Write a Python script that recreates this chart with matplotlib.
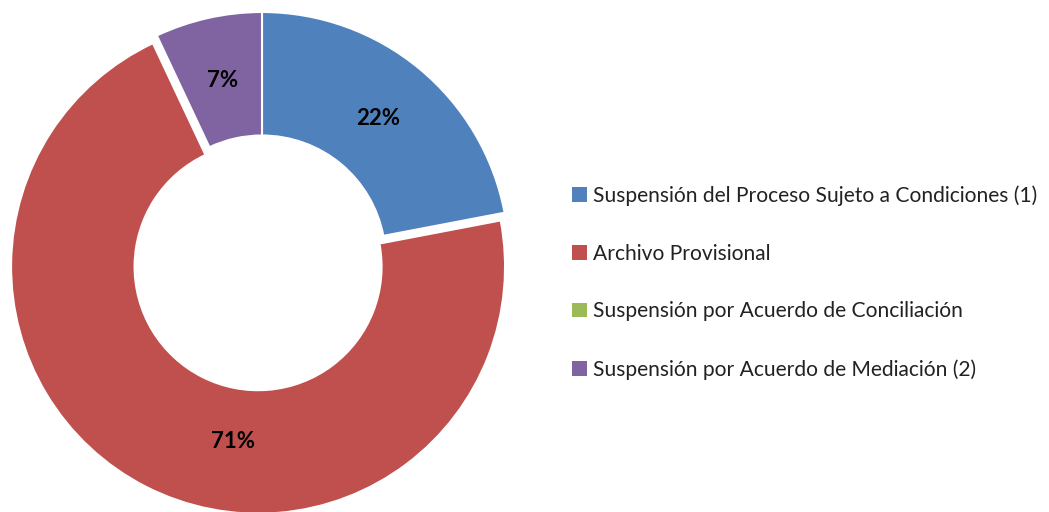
import matplotlib
matplotlib.use('Agg')
import matplotlib.pyplot as plt
from matplotlib.patches import Patch
import numpy as np

plt.rcParams['font.family'] = ['Lato', 'DejaVu Sans']

# data (percent of total)
categorias = ['Suspensión del Proceso Sujeto a Condiciones (1)',
              'Archivo Provisional',
              'Suspensión por Acuerdo de Conciliación',
              'Suspensión por Acuerdo de Mediación (2)']
valores = [22, 71, 0, 7]
colores = ['#4F81BD', '#C0504D', '#9BBB59', '#8064A2']
separar = [0, 0.035, 0, 0]

def etiqueta(p):
    # hide the empty slice label
    return '' if p < 0.5 else '%.0f%%' % p

fig = plt.figure(figsize=(10.49, 5.12), dpi=100)
ax = fig.add_axes([12/1049, 3/512, 500/1049, 500/512])
wedges, texts, autotexts = ax.pie(valores, colors=colores, startangle=90, counterclock=False,
                                  explode=separar, autopct=etiqueta, pctdistance=0.74,
                                  wedgeprops=dict(width=0.5, edgecolor='white', linewidth=1.5))
for t in autotexts:
    t.set_fontsize(16)
    t.set_fontweight('bold')
    t.set_color('black')

# excel puts the big slice label closer to the bottom
ang = np.deg2rad(-99)
autotexts[1].set_position((0.75 * np.cos(ang), 0.75 * np.sin(ang)))

lim = 250/247
ax.set_xlim(-lim, lim)
ax.set_ylim(-lim, lim)
ax.set_aspect('equal')
ax.axis('off')

handles = [Patch(facecolor=c, edgecolor='none') for c in colores]
fig.legend(handles, categorias, loc='center left', bbox_to_anchor=(553/1049, 0.448),
           frameon=False, fontsize=15.1, handlelength=0.7, handleheight=0.7,
           handletextpad=0.3, labelspacing=1.8, labelcolor='#222222')

fig.savefig('out.png', dpi=100)
